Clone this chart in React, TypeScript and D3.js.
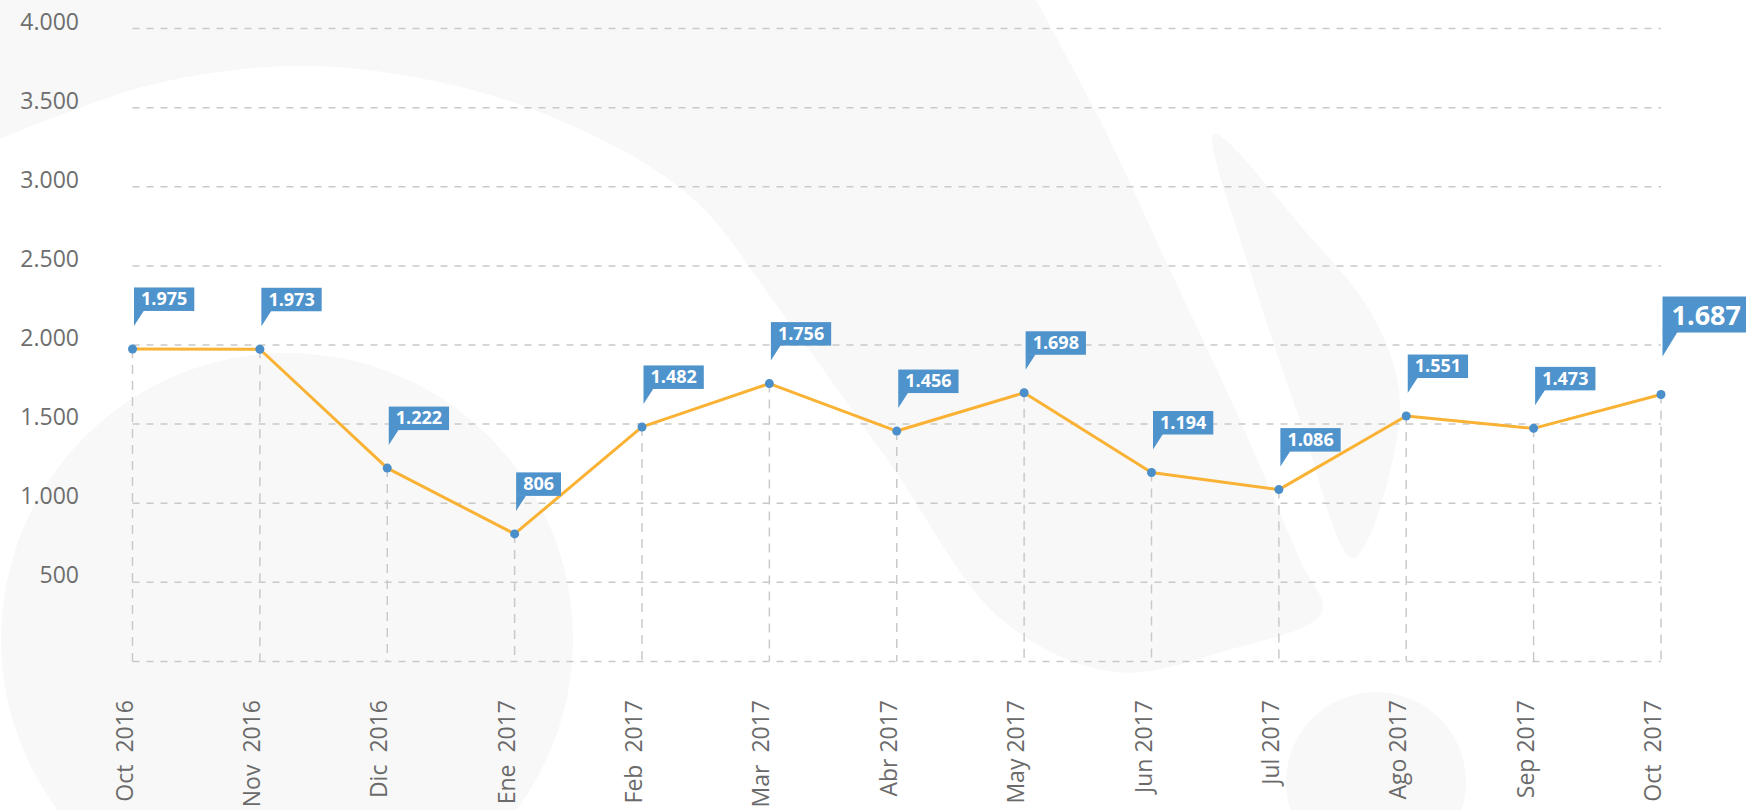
import React from 'react';
import * as d3 from 'd3';

const categories = ['Oct  2016', 'Nov  2016', 'Dic  2016', 'Ene  2017', 'Feb  2017', 'Mar  2017', 'Abr 2017', 'May 2017', 'Jun 2017', 'Jul 2017', 'Ago 2017', 'Sep 2017', 'Oct  2017'];
const values = [1975, 1973, 1222, 806, 1482, 1756, 1456, 1698, 1194, 1086, 1551, 1473, 1687];
const yTickLabels = [500, 1000, 1500, 2000, 2500, 3000, 3500, 4000];
const gridValues = [0, 500, 1000, 1500, 2000, 2500, 3000, 3500, 4000];

const W = 1746;
const H = 810;
const FONT = '"Open Sans", "DejaVu Sans", sans-serif';

const fmt = d3.formatLocale({ decimal: ',', thousands: '.', grouping: [3], currency: ['', ''] }).format(',');

let ctx: CanvasRenderingContext2D | null = null;
function textWidth(t: string, font: string): number {
  if (!ctx) ctx = document.createElement('canvas').getContext('2d');
  if (!ctx) return t.length * 10;
  ctx.font = font;
  return ctx.measureText(t).width;
}

// decorative background shapes
const swooshCurve: [number, number][] = [
  [1036, 0], [1100, 120], [1170, 270], [1240, 420], [1300, 560], [1322, 612],
  [1225, 651], [1114, 672], [1002, 620], [891, 465], [780, 310], [690, 196],
  [557, 119], [420, 78], [290, 66], [150, 85], [0, 139],
];
const bladePts: [number, number][] = [
  [1214, 134], [1300, 225], [1375, 320], [1400, 410], [1353, 558], [1300, 420], [1250, 270],
];

export default function App() {
  const x = d3.scalePoint<string>().domain(categories).range([132.5, 1661]);
  const y = d3.scaleLinear().domain([0, 4000]).range([661.4, 28.6]);
  const xl = x.range()[0];
  const xr = x.range()[1];

  const line = d3
    .line<number>()
    .x((_, i) => x(categories[i]) as number)
    .y((d) => y(d));

  const swoosh = (d3.line().curve(d3.curveCatmullRom.alpha(0.5))(swooshCurve) || '') + 'L0,0Z';
  const blade = d3.line().curve(d3.curveCatmullRomClosed.alpha(0.5))(bladePts) || '';

  const gridColor = '#c9c9c9';

  return (
    <svg
      width={W}
      height={H}
      style={{ position: 'fixed', left: 0, top: 0, background: '#ffffff' }}
    >
      <rect x={0} y={0} width={W} height={H} fill="#ffffff" />
      <g fill="#f8f8f8">
        <path d={swoosh} />
        <path d={blade} />
        <circle cx={287} cy={639} r={286} />
        <circle cx={1376} cy={782} r={90} />
      </g>

      {/* horizontal grid */}
      <g stroke={gridColor} strokeWidth={1.5} strokeDasharray="7,7">
        {gridValues.map((v) => (
          <line key={v} x1={xl} x2={xr} y1={y(v)} y2={y(v)} />
        ))}
      </g>
      {/* vertical drop lines */}
      <g stroke={gridColor} strokeWidth={1.5} strokeDasharray="9,7">
        {values.map((v, i) => (
          <line key={i} x1={x(categories[i])} x2={x(categories[i])} y1={y(v)} y2={y(0)} />
        ))}
      </g>

      {/* y labels */}
      <g fontFamily={FONT} fontSize={23} fill="#6e6e6e" textAnchor="end">
        {yTickLabels.map((v) => (
          <text key={v} x={79} y={y(v) + 1}>
            {fmt(v)}
          </text>
        ))}
      </g>

      {/* x labels */}
      <g fontFamily={FONT} fontSize={23} fill="#6a6a6a" textAnchor="end">
        {categories.map((c) => (
          <text
            key={c}
            transform={`translate(${x(c)},700) rotate(-90)`}
            style={{ whiteSpace: 'pre' }}
          >
            {c}
          </text>
        ))}
      </g>

      {/* line */}
      <path d={line(values) || ''} fill="none" stroke="#f9b234" strokeWidth={3} strokeLinejoin="round" />
      <g fill="#4a8fc9">
        {values.map((v, i) => (
          <circle key={i} cx={x(categories[i])} cy={y(v)} r={4.5} />
        ))}
      </g>

      {/* value labels */}
      {values.map((v, i) => {
        const big = i === values.length - 1;
        const px = (x(categories[i]) as number) + 1.5;
        const py = y(v);
        const fs = big ? 27 : 18;
        const pad = big ? 9 : 7;
        const bh = big ? 36 : 23.5;
        const bottom = big ? py - 62 : py - 38;
        const tip = big ? py - 38 : py - 23;
        const tw = big ? 15 : 10;
        const label = fmt(v);
        const w = textWidth(label, `bold ${fs}px "Open Sans"`) + pad * 2;
        return (
          <g key={i}>
            <rect x={px} y={bottom - bh} width={w} height={bh} fill="#4f93cc" />
            <path d={`M${px},${bottom - 0.5}L${px},${tip}L${px + tw},${bottom - 0.5}Z`} fill="#4f93cc" />
            <text
              x={px + pad}
              y={bottom - (big ? 8 : 5.6)}
              fontFamily={FONT}
              fontWeight="bold"
              fontSize={fs}
              fill="#ffffff"
            >
              {label}
            </text>
          </g>
        );
      })}
    </svg>
  );
}
